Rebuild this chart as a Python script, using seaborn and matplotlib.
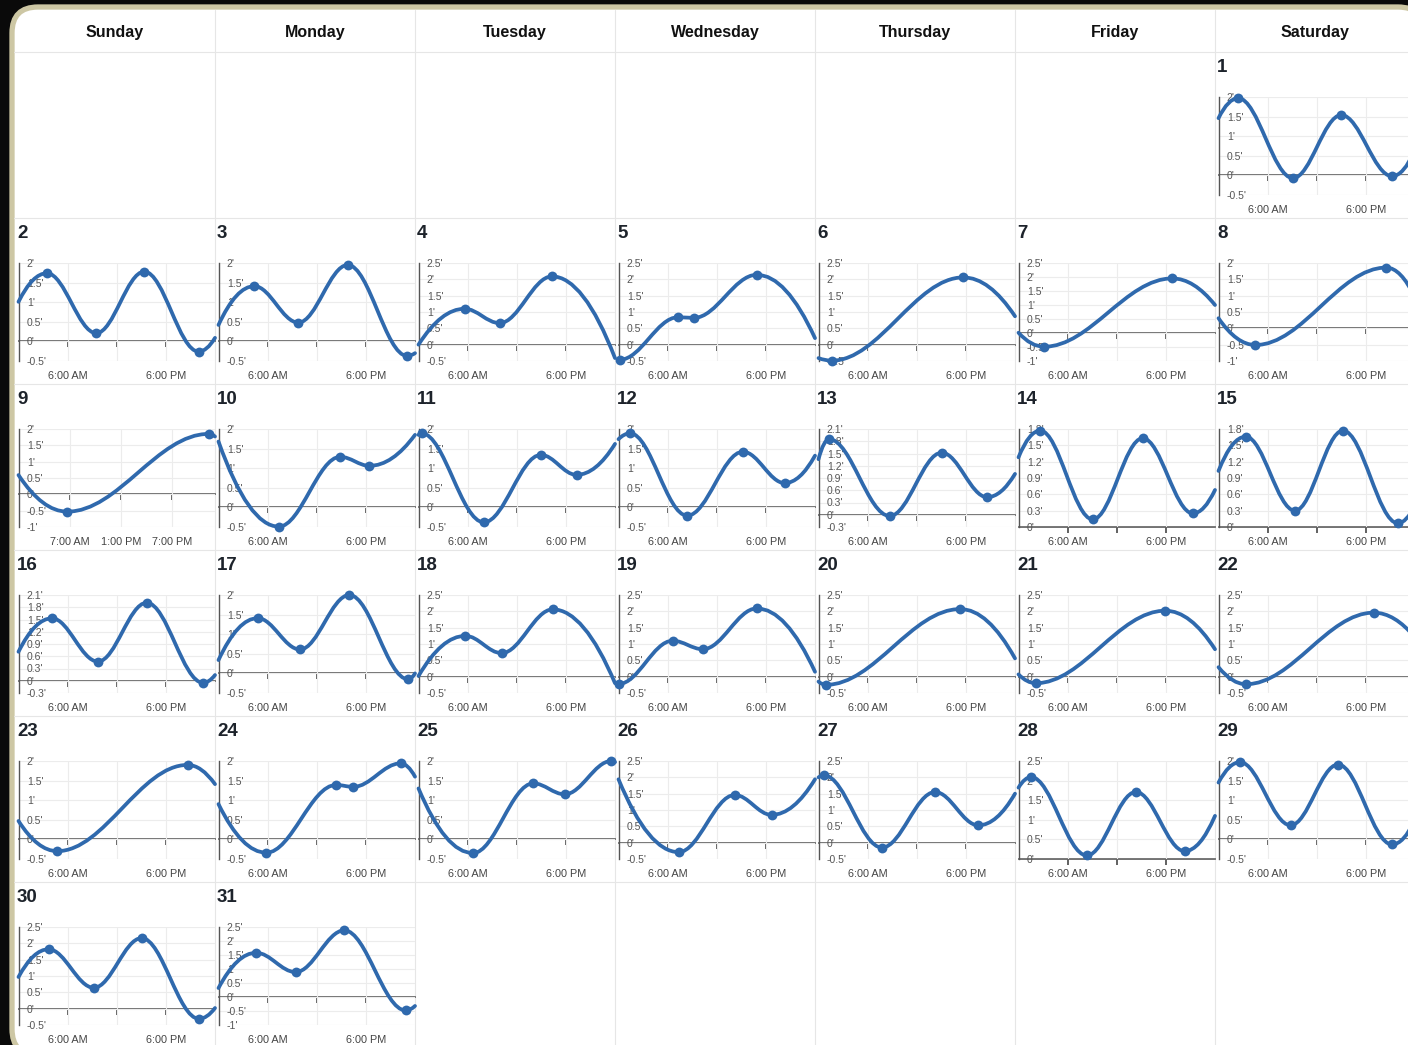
"""
tide_calendar.py
Description: Month calendar of daily tide curves (feet), one small chart per day
"""

import numpy as np
import pandas as pd
import matplotlib
matplotlib.use("Agg")
import matplotlib.pyplot as plt
from matplotlib.path import Path
from matplotlib.patches import PathPatch, FancyBboxPatch
import seaborn as sns

# ------------------ Data ------------------
weekdays = ["Sunday", "Monday", "Tuesday", "Wednesday", "Thursday", "Friday", "Saturday"]
first_weekday = 6   # the 1st falls on a Saturday
days = list(range(1, 32))
dst_day = 9         # 23 hour day (clocks go forward)

# water level at midnight (start) and at the end of each day
start_level = [1.46, 1.01, 0.42, 0.00, -0.44, -0.41, 0.01, 0.31, 0.59, 1.68,
               1.85, 1.74, 1.36, 1.28, 1.03, 0.71, 0.34, 0.02, -0.20, -0.15,
               0.07, 0.29, 0.47, 0.90, 1.30, 1.94, 2.00, 1.82, 1.45, 0.97, 0.32]
end_level = [0.65, 0.09, -0.30, -0.41, 0.20, 0.87, 1.00, 0.95, 1.77, 1.85,
             1.62, 1.32, 1.00, 0.68, 0.40, 0.14, 0.00, -0.20, 0.15, 0.56,
             0.84, 1.20, 1.41, 1.60, 1.97, 1.94, 1.50, 1.10, 0.50, 0.02, -0.32]

# high / low tides: hour of the day and height in feet
tide_hours = [
    [2.4, 9.1, 15.0, 21.2],
    [3.47, 9.5, 15.36, 22.0],
    [4.37, 9.75, 15.78, 23.04],
    [5.62, 9.9, 16.3],
    [0.17, 7.27, 9.2, 16.9],
    [1.6, 17.7],
    [3.1, 18.8],
    [4.49, 20.5],
    [5.68, 22.27],
    [7.36, 14.87, 18.44],
    [0.39, 7.98, 14.95, 19.3],
    [1.42, 8.39, 15.2, 20.3],
    [1.3, 8.7, 15.05, 20.6],
    [2.65, 9.07, 15.17, 21.3],
    [3.32, 9.34, 15.2, 21.9],
    [4.08, 9.7, 15.65, 22.55],
    [4.78, 9.95, 15.98, 23.16],
    [5.72, 10.15, 16.4],
    [0.05, 6.62, 10.3, 16.9],
    [0.88, 17.33],
    [2.1, 17.95],
    [3.35, 18.98],
    [4.72, 20.65],
    [5.83, 14.37, 16.45, 22.24],
    [6.65, 14.03, 17.85, 23.55],
    [7.35, 14.2, 18.7],
    [0.69, 7.75, 14.24, 19.53],
    [1.54, 8.35, 14.34, 20.3],
    [2.63, 8.81, 14.6, 21.2],
    [3.67, 9.2, 15.04, 22.05],
    [4.58, 9.42, 15.36, 22.87],
]
tide_feet = [
    [1.97, -0.07, 1.54, -0.02],
    [1.74, 0.21, 1.78, -0.26],
    [1.41, 0.48, 1.95, -0.37],
    [1.10, 0.66, 2.09],
    [-0.46, 0.84, 0.82, 2.14],
    [-0.49, 2.06],
    [-0.49, 1.95],
    [-0.51, 1.86],
    [-0.53, 1.85],
    [-0.49, 1.29, 1.06],
    [1.89, -0.38, 1.34, 0.83],
    [1.89, -0.21, 1.42, 0.62],
    [1.85, -0.03, 1.52, 0.43],
    [1.77, 0.14, 1.63, 0.25],
    [1.66, 0.30, 1.77, 0.07],
    [1.53, 0.47, 1.91, -0.05],
    [1.41, 0.61, 2.00, -0.15],
    [1.25, 0.72, 2.06],
    [-0.22, 1.10, 0.84, 2.09],
    [-0.25, 2.07],
    [-0.20, 2.02],
    [-0.23, 1.96],
    [-0.30, 1.90],
    [-0.34, 1.39, 1.34, 1.94],
    [-0.35, 1.43, 1.15, 2.00],
    [-0.29, 1.46, 0.85],
    [2.06, -0.15, 1.55, 0.53],
    [2.09, 0.09, 1.71, 0.20],
    [1.97, 0.36, 1.91, -0.13],
    [1.82, 0.64, 2.16, -0.31],
    [1.58, 0.89, 2.38, -0.48],
]

# y axis range and tick step of each day
y_bottom = [-0.5, -0.5, -0.5, -0.5, -0.5, -0.5, -1, -1, -1, -0.5,
            -0.5, -0.5, -0.3, 0, 0, -0.3, -0.5, -0.5, -0.5, -0.5,
            -0.5, -0.5, -0.5, -0.5, -0.5, -0.5, -0.5, 0, -0.5, -0.5, -1]
y_top = [2, 2, 2, 2.5, 2.5, 2.5, 2.5, 2, 2, 2,
         2, 2, 2.1, 1.8, 1.8, 2.1, 2, 2.5, 2.5, 2.5,
         2.5, 2.5, 2, 2, 2, 2.5, 2.5, 2.5, 2, 2.5, 2.5]
y_step = [0.5] * 12 + [0.3, 0.3, 0.3, 0.3] + [0.5] * 15

x_ticks = [6, 12, 18]
x_labels = ["6:00 AM", "", "6:00 PM"]
x_labels_dst = ["7:00 AM", "1:00 PM", "7:00 PM"]

events = pd.DataFrame(
    [(d, h, f) for d, hs, fs in zip(days, tide_hours, tide_feet) for h, f in zip(hs, fs)],
    columns=["day", "hour", "feet"],
)

# ------------------ Helpers ------------------
def tide_path(t0, v0, hours, feet, t1, v1):
    """Smooth curve: flat at every high/low, half-cosine like in between."""
    pts = list(zip(hours, feet))
    verts = [(t0, v0)]
    codes = [Path.MOVETO]
    h, f = pts[0]
    verts += [((t0 + h) / 2, f), (h, f)]
    codes += [Path.CURVE3, Path.CURVE3]
    for (ha, fa), (hb, fb) in zip(pts[:-1], pts[1:]):
        k = (hb - ha) * 0.3634
        verts += [(ha + k, fa), (hb - k, fb), (hb, fb)]
        codes += [Path.CURVE4] * 3
    h, f = pts[-1]
    verts += [((h + t1) / 2, f), (t1, v1)]
    codes += [Path.CURVE3, Path.CURVE3]
    return Path(verts, codes)


def feet_label(v):
    return f"{round(v, 1) + 0.0:g}'"

# ------------------ Figure / calendar frame ------------------
sns.set_theme(style="white")
plt.rcParams["font.family"] = ["Liberation Sans", "DejaVu Sans"]

W, H = 1408, 1045
blue = "#2f69ad"
cell_w, cell_h = 200, 166
x0, y0 = 15, 52

fig = plt.figure(figsize=(W / 100, H / 100), dpi=100, facecolor="#0a0a0a")
bg = fig.add_axes([0, 0, 1, 1], zorder=0)
bg.set_xlim(0, W)
bg.set_ylim(H, 0)
bg.axis("off")

bg.add_patch(FancyBboxPatch((12, 7), 1412, 1048, boxstyle="round,pad=0,rounding_size=26",
                            facecolor="white", edgecolor="#cdc7a4", linewidth=3.8))
for c in range(1, 7):
    bg.plot([x0 + c * cell_w] * 2, [10, H], color="#e6e6e6", lw=0.8)
for r in range(6):
    bg.plot([14, W], [y0 + r * cell_h] * 2, color="#e6e6e6", lw=0.8)
for c, name in enumerate(weekdays):
    bg.text(x0 + c * cell_w + cell_w / 2, 32, name, ha="center", va="center",
            fontsize=11.5, fontweight="bold", color="#111111")

# ------------------ One tide chart per day ------------------
for i, d in enumerate(days):
    slot = i + first_weekday
    row, col = slot // 7, slot % 7
    left = x0 + col * cell_w
    top = y0 + row * cell_h
    bg.text(left + 2, top + 16, str(d), ha="left", va="center",
            fontsize=13.5, fontweight="bold", color="#1d232b")

    ax = fig.add_axes([(left + 3.5) / W, 1 - (top + 143) / H, 196.5 / W, 98 / H], zorder=1)
    ax.set_facecolor("none")
    day_len = 23 if d == dst_day else 24

    ax.add_patch(PathPatch(tide_path(0, start_level[i], tide_hours[i], tide_feet[i],
                                     day_len, end_level[i]),
                           facecolor="none", edgecolor=blue, lw=2.7, zorder=3,
                           clip_on=False, capstyle="round", joinstyle="round"))
    sns.scatterplot(data=events[events["day"] == d], x="hour", y="feet", ax=ax,
                    color=blue, s=50, linewidth=0, zorder=4, clip_on=False, legend=False)
    ax.set_xlabel("")
    ax.set_ylabel("")

    lo, hi, step = y_bottom[i], y_top[i], y_step[i]
    ax.set_xlim(0, day_len)
    ax.set_ylim(lo, hi)
    yt = [round(v, 1) for v in np.arange(lo, hi + step / 2, step)]
    ax.set_yticks(yt, [feet_label(v) for v in yt])
    ax.set_xticks(x_ticks, x_labels_dst if d == dst_day else x_labels)
    ax.grid(True, color="#ececec", lw=0.8)
    ax.set_axisbelow(True)

    for side in ["top", "right", "bottom"]:
        ax.spines[side].set_visible(False)
    ax.spines["left"].set_color("#555555")
    ax.spines["left"].set_linewidth(1.0)
    ax.tick_params(axis="y", direction="in", length=3.5, width=1.0, color="#555555",
                   pad=-6, labelsize=7.5, labelcolor="#555555")
    for lab in ax.get_yticklabels():
        lab.set_horizontalalignment("left")
    ax.tick_params(axis="x", length=0, pad=7.5, labelsize=7.8, labelcolor="#444444")

    # zero line with its own little hour ticks
    sec = ax.secondary_xaxis((0 - lo) / (hi - lo))
    sec.set_alignment("bottom")
    sec.set_xticks(x_ticks)
    sec.tick_params(axis="x", direction="out", length=4, width=1.3, color="#555555",
                    labelbottom=False, labeltop=False)
    sec.spines["bottom"].set_color("#666666")
    sec.spines["bottom"].set_linewidth(1.3)

plt.savefig("out.png", dpi=100, facecolor=fig.get_facecolor())
